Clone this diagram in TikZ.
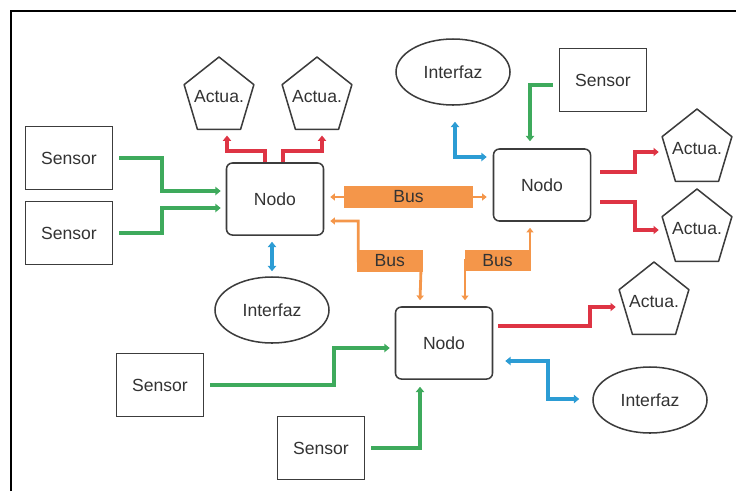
\documentclass[tikz,border=0pt]{standalone}
\usepackage{fontspec}
\setmainfont{Liberation Sans}
\usepackage{xcolor}
\usetikzlibrary{calc,shapes.geometric,arrows.meta}
\definecolor{greenl}{RGB}{62,170,92}
\definecolor{redl}{RGB}{222,52,68}
\definecolor{bluel}{RGB}{44,156,212}
\definecolor{orangel}{RGB}{244,150,74}
\definecolor{edgegray}{RGB}{60,60,60}

\begin{document}
\begin{tikzpicture}[x=0.03cm, y=-0.03cm,
  every node/.style={font=\fontsize{15}{18}\selectfont, text=black!80},
  sensor/.style={draw=edgegray, line width=1.3pt, minimum width=2.61cm, minimum height=1.89cm},
  nodo/.style={draw=edgegray, line width=1.3pt, rounded corners=5pt, minimum width=2.91cm, minimum height=2.16cm},
  interfaz/.style={draw=edgegray, line width=1.3pt, ellipse, minimum width=3.42cm, minimum height=1.98cm, inner sep=0pt},
  actua/.style={inner sep=0pt, minimum width=2.1cm, minimum height=1.94cm},
  busbox/.style={fill=orangel, inner sep=0pt, minimum height=0.64cm, minimum width=1.98cm},
  tip/.tip={Triangle[length=4.5pt,width=7pt]},
  gline/.style={draw=greenl, line width=3.4pt, -tip, shorten <=5pt},
  rline/.style={draw=redl, line width=3.4pt, -tip},
  bline/.style={draw=bluel, line width=3.4pt, tip-tip},
  oline/.style={draw=orangel, line width=2.4pt, {Triangle[length=4pt,width=6pt]}-{Triangle[length=4pt,width=6pt]}}
]
\useasboundingbox (0,0) rectangle (736,491);

% frame
\draw[line width=1.5pt] (11,491) -- (11,11) -- (736,11);

% sensors
\node[sensor] (s1) at (69,158) {Sensor};
\node[sensor] (s2) at (69,233) {Sensor};
\node[sensor] (s3) at (160,385) {Sensor};
\node[sensor] (s4) at (321,448) {Sensor};
\node[sensor] (s5) at (603,80) {Sensor};

% nodes
\node[nodo] (n1) at (275,199) {Nodo};
\node[nodo] (n2) at (542,185) {Nodo};
\node[nodo] (n3) at (444,343) {Nodo};

% interfaces
\node[interfaz] (i1) at (272,310) {Interfaz};
\node[interfaz] (i2) at (453,72) {Interfaz};
\node[interfaz] (i3) at (650,400) {Interfaz};

% actuators
\node[actua] (a1) at (219,97) {Actua.};
\node[actua] (a2) at (317,97) {Actua.};
\node[actua] (a3) at (697,149) {Actua.};
\node[actua] (a4) at (697,229) {Actua.};
\node[actua] (a5) at (654,302) {Actua.};
\foreach \a in {a1,a2,a3,a4,a5}
  \draw[draw=edgegray, line width=1.3pt, line join=round]
    ($(\a)+(90:1.1cm and 1.2cm)$) -- ($(\a)+(162:1.1cm and 1.2cm)$)
    -- ($(\a)+(234:1.1cm and 1.2cm)$) -- ($(\a)+(306:1.1cm and 1.2cm)$)
    -- ($(\a)+(18:1.1cm and 1.2cm)$) -- cycle;

% sensor lines
\draw[gline] (s1.east) -- ++(49,0) |- ($(n1.west)+(-5,-8)$);
\draw[gline] (s2.east) -- ++(49,0) |- ($(n1.west)+(-5,9)$);
\draw[gline] (s3.east) -- ++(130,0) |- ($(n3.west)+(-5,5)$);
\draw[gline] (s4.east) -| ($(n3.south)+(-24,7)$);
\draw[gline] (s5.west) ++(0,5) -| ($(n2.north)+(-12,-7)$);

% actuator lines
\draw[rline] ($(n1.north)+(-10,0)$) -- ++(0,-11) -| ($(a1.south)+(8,6)$);
\draw[rline] ($(n1.north)+(8,0)$) -- ++(0,-11) -| ($(a2.south)+(5,6)$);
\draw[rline] ($(n2.east)+(9,-13)$) -- ++(35,0) |- ($(a3.west)+(-3,3)$);
\draw[rline] ($(n2.east)+(9,17)$) -- ++(35,0) |- ($(a4.west)+(-3,1)$);
\draw[rline] ($(n3.east)+(5,-17)$) -- ++(92,0) |- ($(a5.west)+(-3,5)$);

% interface lines
\draw[bline] ($(n1.south)+(-3,6)$) -- ($(i1.north)+(0,-5)$);
\draw[bline] ($(i2.south)+(2,16)$) |- ($(n2.west)+(-6,-28)$);
\draw[bline] ($(n3.east)+(12,18)$) -- ++(43,0) |- ($(i3.west)+(-13,-1)$);

% bus
\draw[oline] ($(n1.east)+(6,-2)$) -- node[busbox, minimum width=3.87cm] {Bus} ($(n2.west)+(-6,12)$);
\draw[oline] ($(n1.east)+(6,22)$) -- ++(28,0) -- ++(0,40) -- node[busbox] {Bus} ++(63,0) -- ($(n3.north)+(-24,-6)$);
\draw[oline] ($(n2.south)+(-12,6)$) -- ++(0,33) -- node[busbox] {Bus} ++(-65,0) -- ($(n3.north)+(21,-6)$);

\end{tikzpicture}
\end{document}
